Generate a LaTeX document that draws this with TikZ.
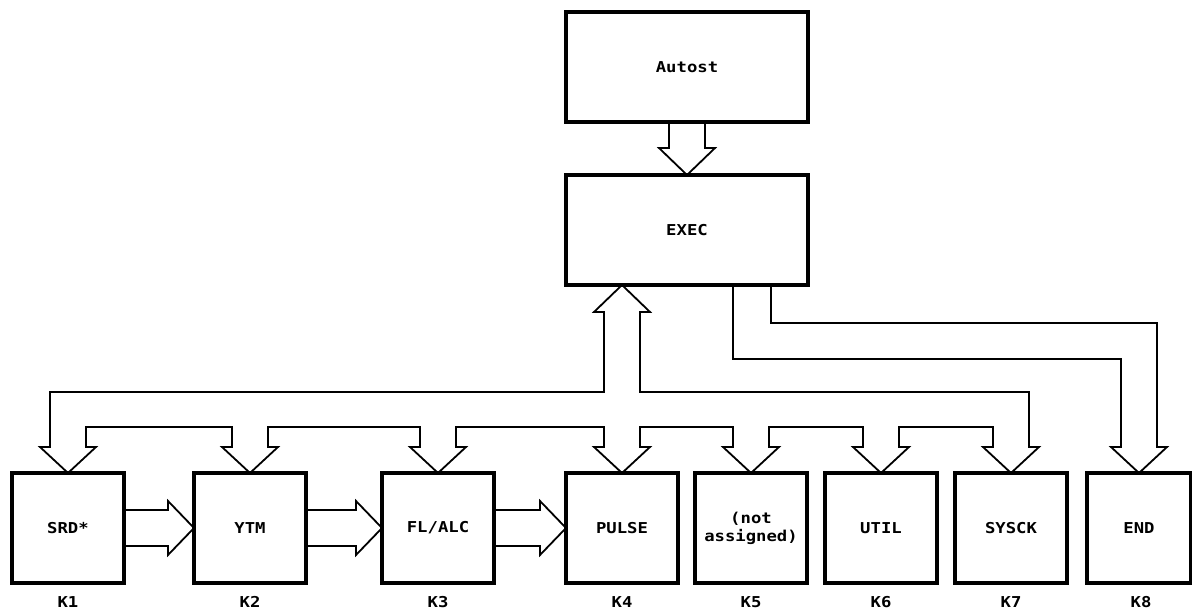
\documentclass[tikz,border=0pt]{standalone}
\usepackage{fontspec}
\usetikzlibrary{calc}
\newfontfamily\plotfont[FakeStretch=1.15]{DejaVu Sans Mono Bold}
\newcommand\plotfnt{\plotfont\fontsize{15}{18}\selectfont}
\begin{document}
\begin{tikzpicture}[x=1pt,y=-1pt,
  conn/.style={line width=1.8pt, line join=miter},
  box/.style={draw, line width=4pt, outer sep=0pt, minimum width=112pt, minimum height=110pt, inner sep=0pt, font=\plotfnt, align=center},
  lbl/.style={font=\plotfnt, inner sep=0pt},
  dnhead/.style={insert path={-- ($(#1.north)+(-18,-26)$) -- ($(#1.north)+(-28,-26)$) -- (#1.north) -- ($(#1.north)+(28,-26)$) -- ($(#1.north)+(18,-26)$)}},
  rthead/.style={insert path={-- ($(#1.west)+(-26,-18)$) -- ($(#1.west)+(-26,-27)$) -- (#1.west) -- ($(#1.west)+(-26,27)$) -- ($(#1.west)+(-26,18)$)}}
]
\useasboundingbox[fill=white] (0,0) rectangle (1192,612);

% boxes
\node[box, minimum width=242pt] (autost) at (687,67) {Autost};
\node[box, minimum width=242pt] (exec) at (687,230) {EXEC};
\node[box] (k1) at (68,528) {SRD*};
\node[box] (k2) at (250,528) {YTM};
\node[box] (k3) at (438,528) {FL/ALC};
\node[box] (k4) at (622,528) {PULSE};
\node[box] (k5) at (751,528) {(not\\assigned)};
\node[box] (k6) at (881,528) {UTIL};
\node[box] (k7) at (1011,528) {SYSCK};
\node[box, minimum width=104pt] (k8) at (1139,528) {END};

% labels
\node[lbl] (l1) at (68,602) {K1};
\node[lbl] (l2) at (250,602) {K2};
\node[lbl] (l3) at (438,602) {K3};
\node[lbl] (l4) at (622,602) {K4};
\node[lbl] (l5) at (751,602) {K5};
\node[lbl] (l6) at (881,602) {K6};
\node[lbl] (l7) at (1011,602) {K7};
\node[lbl] (l8) at (1141,602) {K8};

% Autost -> EXEC
\draw[conn] ($(autost.south)+(-18,0)$) -- ($(exec.north)+(-18,-27)$) -- ($(exec.north)+(-28,-27)$) -- (exec.north)
  -- ($(exec.north)+(28,-27)$) -- ($(exec.north)+(18,-27)$) -- ($(autost.south)+(18,0)$);

% horizontal block arrows
\draw[conn] ($(k1.east)+(0,-18)$) [rthead=k2] -- ($(k1.east)+(0,18)$);
\draw[conn] ($(k2.east)+(0,-18)$) [rthead=k3] -- ($(k2.east)+(0,18)$);
\draw[conn] ($(k3.east)+(0,-18)$) [rthead=k4] -- ($(k3.east)+(0,18)$);

% bus with up arrow into EXEC
\coordinate (up) at (exec.south -| k4.north);
\draw[conn] ($(up)+(-18,27)$) -- ($(k4.north)+(-18,-81)$) -- ($(k1.north)+(-18,-81)$)
  [dnhead=k1] -- ($(k1.north)+(18,-46)$) -- ($(k2.north)+(-18,-46)$)
  [dnhead=k2] -- ($(k2.north)+(18,-46)$) -- ($(k3.north)+(-18,-46)$)
  [dnhead=k3] -- ($(k3.north)+(18,-46)$) -- ($(k4.north)+(-18,-46)$)
  [dnhead=k4] -- ($(k4.north)+(18,-46)$) -- ($(k5.north)+(-18,-46)$)
  [dnhead=k5] -- ($(k5.north)+(18,-46)$) -- ($(k6.north)+(-18,-46)$)
  [dnhead=k6] -- ($(k6.north)+(18,-46)$) -- ($(k7.north)+(-18,-46)$)
  [dnhead=k7] -- ($(k7.north)+(18,-81)$) -- ($(k4.north)+(18,-81)$)
  -- ($(up)+(18,27)$) -- ($(up)+(28,27)$) -- (up) -- ($(up)+(-28,27)$) -- cycle;

% EXEC -> END
\draw[conn] ($(exec.south)+(46,0)$) -- ($(exec.south)+(46,74)$) -- ($(k8.north)+(-18,-114)$)
  [dnhead=k8] -- ($(k8.north)+(18,-150)$) -- ($(exec.south)+(84,38)$) -- ($(exec.south)+(84,0)$);
\end{tikzpicture}
\end{document}
